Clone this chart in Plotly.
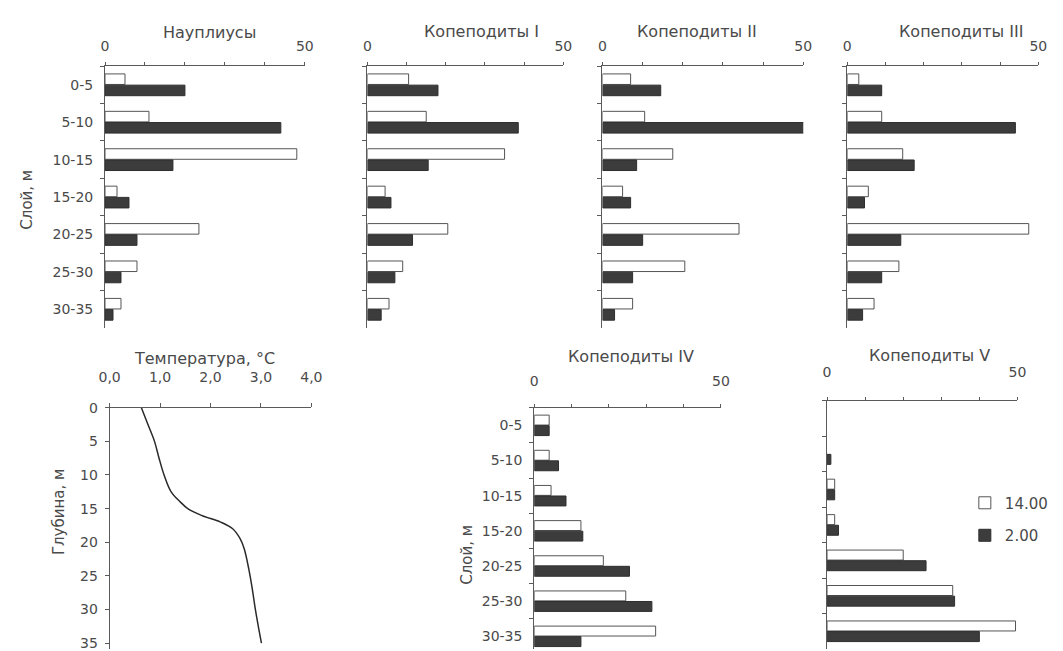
import plotly.graph_objects as go

W, H = 1063, 651

# ---------------- data ----------------
layers = ["0-5", "5-10", "10-15", "15-20", "20-25", "25-30", "30-35"]

naup_14 = [5, 11, 48, 3, 23.5, 8, 4]
naup_2 = [20, 44, 17, 6, 8, 4, 2]
cop1_14 = [10.5, 15, 35, 4.5, 20.5, 9, 5.5]
cop1_2 = [18, 38.5, 15.5, 6, 11.5, 7, 3.5]
cop2_14 = [7, 10.5, 17.5, 5, 34, 20.5, 7.5]
cop2_2 = [14.5, 51, 8.5, 7, 10, 7.5, 3]
cop3_14 = [3, 9, 14.5, 5.5, 47.5, 13.5, 7]
cop3_2 = [9, 44, 17.5, 4.5, 14, 9, 4]
cop4_14 = [4, 4, 4.5, 12.5, 18.5, 24.5, 32.5]
cop4_2 = [4, 6.5, 8.5, 13, 25.5, 31.5, 12.5]
cop5_14 = [None, None, 2, 2, 20, 33, 49.5]
cop5_2 = [None, 1, 2, 3, 26, 33.5, 40]

temp_depth = [0, 2.5, 5, 7.5, 10, 12.5, 14, 15, 16, 17, 18, 19.5, 21, 24, 27, 30, 33, 35]
temp_val = [0.63, 0.76, 0.89, 0.98, 1.08, 1.22, 1.40, 1.55, 1.82, 2.20, 2.44, 2.59, 2.67, 2.76, 2.83, 2.89, 2.96, 3.01]

series_names = ["14.00", "2.00"]
temp_ticks = [0, 1, 2, 3, 4]
temp_ticktext = ["0,0", "1,0", "2,0", "3,0", "4,0"]
depth_ticks = [0, 5, 10, 15, 20, 25, 30, 35]
count_ticks = [0, 10, 20, 30, 40, 50]
count_ticktext = ["0", "", "", "", "", "50"]

# ---------------- style ----------------
FONT = "DejaVu Sans"
TXT = "#4a4a4a"
AX = "#5a5a5a"
WHITE_FILL = "#ffffff"
WHITE_LINE = "#555555"
DARK_FILL = "#3c3c3c"
DARK_LINE = "#2e2e2e"


def fx(px):
    return px / W


def fy(py):
    return 1 - py / H


fig = go.Figure()

panels = [
    # title, white, dark, x0, x1, ytop, ybot, yrange, show y labels, title pos, tick standoff
    ("Науплиусы", naup_14, naup_2, 96, 300, 59, 325, [6.5, -0.5], True, (203, 25), 5),
    ("Копеподиты I", cop1_14, cop1_2, 364, 564, 59, 325, [6.5, -0.5], False, (480, 24), 5),
    ("Копеподиты II", cop2_14, cop2_2, 604, 809, 59, 325, [6.5, -0.5], False, (700, 24), 5),
    ("Копеподиты III", cop3_14, cop3_2, 854, 1049, 59, 325, [6.5, -0.5], False, (970, 24), 5),
]

annotations = []


def add_bar_panel(idx, title, w_vals, d_vals, x0, x1, ytop, ybot, yrange, showy, tpos, standoff, legend=False):
    xa = "x" if idx == 1 else f"x{idx}"
    ya = "y" if idx == 1 else f"y{idx}"
    fig.add_trace(go.Bar(
        x=w_vals, y=layers, orientation="h", name=series_names[0],
        marker=dict(color=WHITE_FILL, line=dict(color=WHITE_LINE, width=1)),
        xaxis=xa, yaxis=ya, showlegend=legend, legendgroup="a",
    ))
    fig.add_trace(go.Bar(
        x=d_vals, y=layers, orientation="h", name=series_names[1],
        marker=dict(color=DARK_FILL, line=dict(color=DARK_LINE, width=1)),
        xaxis=xa, yaxis=ya, showlegend=legend, legendgroup="b",
    ))
    key = "" if idx == 1 else str(idx)
    fig.update_layout(**{
        f"xaxis{key}": dict(
            domain=[fx(x0), fx(x1)], range=[0, 50], side="top", anchor=ya,
            tickvals=count_ticks, ticktext=count_ticktext, ticks="outside", ticklen=3,
            tickcolor=AX, showline=True, linecolor=AX, linewidth=1, showgrid=False,
            zeroline=False, tickfont=dict(size=14, color=TXT, family=FONT),
            ticklabelstandoff=standoff,
        ),
        f"yaxis{key}": dict(
            domain=[fy(ybot), fy(ytop)], range=yrange, type="category",
            categoryarray=layers, anchor=xa, showline=True, linecolor=AX, linewidth=1,
            ticks="outside", tickson="boundaries", ticklen=4, tickcolor=AX,
            showgrid=False, zeroline=False, showticklabels=showy,
            tickfont=dict(size=14, color=TXT, family=FONT), ticklabelstandoff=8,
        ),
    })
    annotations.append(dict(
        text=title, x=fx(tpos[0]), y=fy(tpos[1]), xref="paper", yref="paper",
        showarrow=False, xanchor="center", yanchor="middle",
        font=dict(size=16, color=TXT, family=FONT),
    ))


for i, p in enumerate(panels, start=1):
    add_bar_panel(i, *p)

# temperature panel (axis 5)
fig.add_trace(go.Scatter(
    x=temp_val, y=temp_depth, mode="lines",
    line=dict(color="#2a2a2a", width=1.5, shape="spline"),
    xaxis="x5", yaxis="y5", showlegend=False,
))
fig.update_layout(
    xaxis5=dict(
        domain=[fx(100.7), fx(306.7)], range=[0, 4], side="top", anchor="y5",
        tickvals=temp_ticks, ticktext=temp_ticktext, ticks="outside", ticklen=4,
        tickcolor=AX, showline=True, linecolor=AX, linewidth=1, showgrid=False,
        zeroline=False, tickfont=dict(size=14, color=TXT, family=FONT),
        ticklabelstandoff=15,
    ),
    yaxis5=dict(
        domain=[0, fy(406)], range=[35.88, 0], anchor="x5",
        tickvals=depth_ticks, ticks="outside", ticklen=4, tickcolor=AX,
        showline=True, linecolor=AX, linewidth=1, showgrid=False, zeroline=False,
        tickfont=dict(size=14, color=TXT, family=FONT), ticklabelstandoff=4,
        ticklabeloverflow="allow",
    ),
)
annotations.append(dict(
    text="Температура, °C", x=fx(198), y=fy(356), xref="paper", yref="paper",
    showarrow=False, xanchor="center", yanchor="middle",
    font=dict(size=16, color=TXT, family=FONT),
))

# copepodites IV and V
add_bar_panel(6, "Копеподиты IV", cop4_14, cop4_2, 534.3, 725, 406, 651, [6.36, -0.5], True, (633, 354), 12)
add_bar_panel(7, "Копеподиты V", cop5_14, cop5_2, 833.3, 1027.7, 399, 651, [6.5, -0.5], False, (938, 353), 14, legend=True)

# axis titles
for txt, x, y in [("Слой, м", 16, 195), ("Глубина, м", 49, 512), ("Слой, м", 466, 555)]:
    annotations.append(dict(
        text=txt, x=fx(x), y=fy(y), xref="paper", yref="paper", textangle=-90,
        showarrow=False, xanchor="center", yanchor="middle",
        font=dict(size=15, color=TXT, family=FONT),
    ))

fig.update_layout(
    width=W, height=H, margin=dict(l=0, r=0, t=0, b=0),
    paper_bgcolor="white", plot_bgcolor="white",
    barmode="group", bargap=0.4, bargroupgap=0.06,
    annotations=annotations,
    showlegend=True,
    legend=dict(
        x=fx(974), y=fy(486), xanchor="left", yanchor="top",
        font=dict(size=15, color=TXT, family=FONT), bgcolor="rgba(0,0,0,0)",
        tracegroupgap=10, itemwidth=30,
    ),
    font=dict(family=FONT, color=TXT),
)

fig.write_html(
    "out.html",
    config={"responsive": False, "displayModeBar": False},
    post_script="document.body.style.margin='0';document.body.style.padding='0';",
)
